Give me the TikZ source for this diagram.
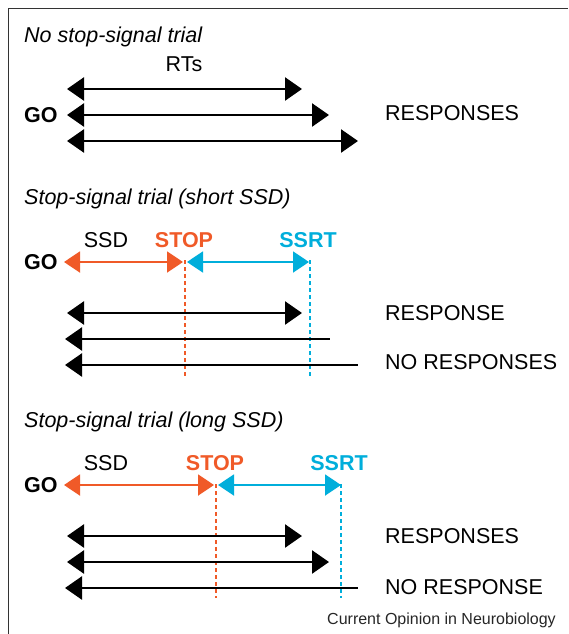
\documentclass[tikz,border=0pt]{standalone}
\usepackage{fontspec}
\setmainfont{Liberation Sans}
\usetikzlibrary{arrows.meta}
\definecolor{stoporange}{HTML}{F05A28}
\definecolor{ssrtcyan}{HTML}{00AEDB}
\newcommand{\lblfont}{\fontsize{21.5}{25}\selectfont}
\begin{document}
\begin{tikzpicture}[x=1pt,y=-1pt,
  lbl/.style={inner sep=0pt,font=\lblfont},
  ttl/.style={lbl,anchor=west,font=\lblfont\itshape},
  golbl/.style={lbl,anchor=west,font=\lblfont\bfseries},
  stoplbl/.style={lbl,text=stoporange,font=\lblfont\bfseries},
  ssrtlbl/.style={lbl,text=ssrtcyan,font=\lblfont\bfseries},
  bigtip/.tip={Triangle[length=17pt,width=23pt]},
  coltip/.tip={Triangle[length=16pt,width=21pt]},
  rt/.style={line width=2.5pt,{bigtip}-{bigtip}},
  norsp/.style={line width=2.5pt,{bigtip}-},
  ssdarrow/.style={line width=2pt,stoporange,{coltip}-{coltip}},
  ssrtarrow/.style={line width=2pt,ssrtcyan,{coltip}-{coltip}},
  stopline/.style={line width=1.3pt,stoporange,dash pattern=on 4pt off 3pt},
  ssrtline/.style={line width=1.3pt,ssrtcyan,dash pattern=on 4pt off 3pt}]
\useasboundingbox (0,0) rectangle (568,634);
% frame
\coordinate (fr1) at (8.5,634);
\coordinate (fr2) at (8.5,8.5);
\coordinate (fr3) at (568,8.5);
\draw[line width=1.2pt,black!80] (fr1) -- (fr2) -- (fr3);

% ---------- no stop-signal trial ----------
\node[ttl] (t1) at (24,37) {No stop-signal trial};
\node[lbl] (rts) at (184,64) {RTs};
\node[golbl] (go1) at (24,115) {GO};
\node[lbl,anchor=west] (r1) at (385,113) {RESPONSES};
\coordinate (a1s) at (67,89);  \coordinate (a1e) at (302,89);
\coordinate (a2s) at (67,115); \coordinate (a2e) at (329,115);
\coordinate (a3s) at (67,141); \coordinate (a3e) at (358,141);
\draw[rt] (a1s) -- (a1e);
\draw[rt] (a2s) -- (a2e);
\draw[rt] (a3s) -- (a3e);

% ---------- short SSD ----------
\node[ttl] (t2) at (24,199) {Stop-signal trial (short SSD)};
\node[lbl] (ssd2) at (106,240) {SSD};
\node[stoplbl] (stop2) at (184,240) {STOP};
\node[ssrtlbl] (ssrt2) at (308,240) {SSRT};
\node[golbl] (go2) at (24,262) {GO};
\coordinate (o2s) at (64,262);  \coordinate (o2e) at (183,262);
\coordinate (c2s) at (187,262); \coordinate (c2e) at (309,262);
\coordinate (d2a) at (185,260); \coordinate (d2b) at (185,378);
\coordinate (e2a) at (310,260); \coordinate (e2b) at (310,378);
\draw[stopline] (d2a) -- (d2b);
\draw[ssrtline] (e2a) -- (e2b);
\draw[ssdarrow] (o2s) -- (o2e);
\draw[ssrtarrow] (c2s) -- (c2e);
\node[lbl,anchor=west] (r2) at (385,313) {RESPONSE};
\node[lbl,anchor=west] (n2) at (385,362) {NO RESPONSES};
\coordinate (b1s) at (67,313);  \coordinate (b1e) at (302,313);
\coordinate (b2s) at (65,339);  \coordinate (b2e) at (330,339);
\coordinate (b3s) at (65,365);  \coordinate (b3e) at (358,365);
\draw[rt] (b1s) -- (b1e);
\draw[norsp] (b2s) -- (b2e);
\draw[norsp] (b3s) -- (b3e);

% ---------- long SSD ----------
\node[ttl] (t3) at (24,422) {Stop-signal trial (long SSD)};
\node[lbl] (ssd3) at (106,463) {SSD};
\node[stoplbl] (stop3) at (215,463) {STOP};
\node[ssrtlbl] (ssrt3) at (339,463) {SSRT};
\node[golbl] (go3) at (24,485) {GO};
\coordinate (o3s) at (64,485);  \coordinate (o3e) at (214,485);
\coordinate (c3s) at (218,485); \coordinate (c3e) at (341,485);
\coordinate (d3a) at (216,484); \coordinate (d3b) at (216,598);
\coordinate (e3a) at (341,484); \coordinate (e3b) at (341,598);
\draw[stopline] (d3a) -- (d3b);
\draw[ssrtline] (e3a) -- (e3b);
\draw[ssdarrow] (o3s) -- (o3e);
\draw[ssrtarrow] (c3s) -- (c3e);
\node[lbl,anchor=west] (r3) at (385,536) {RESPONSES};
\node[lbl,anchor=west] (n3) at (385,587) {NO RESPONSE};
\coordinate (g1s) at (67,536);  \coordinate (g1e) at (302,536);
\coordinate (g2s) at (67,562);  \coordinate (g2e) at (329,562);
\coordinate (g3s) at (65,588);  \coordinate (g3e) at (358,588);
\draw[rt] (g1s) -- (g1e);
\draw[rt] (g2s) -- (g2e);
\draw[norsp] (g3s) -- (g3e);

\node[inner sep=0pt,anchor=east,font=\fontsize{16}{19}\selectfont,text=black!85] (src) at (556,620) {Current Opinion in Neurobiology};
\end{tikzpicture}
\end{document}
